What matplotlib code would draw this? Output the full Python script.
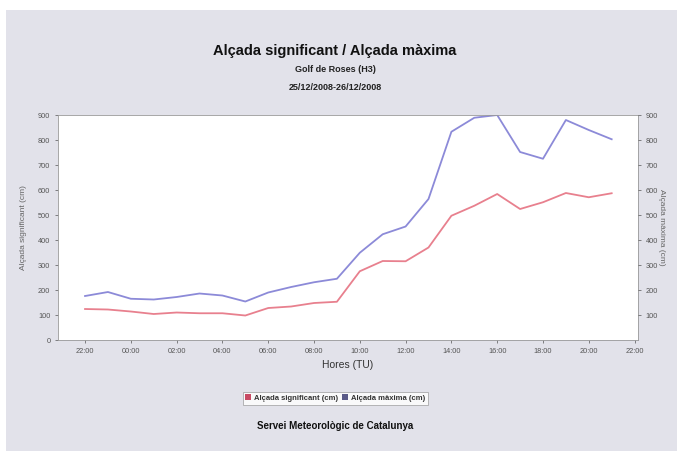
import numpy as np
import matplotlib.pyplot as plt
from matplotlib.patches import Patch, Rectangle

# hourly values from 22:00 (25/12) to 21:00 (26/12)
hores = np.arange(24)
alcada_sig = [124, 122, 114, 104, 110, 107, 107, 98, 128, 134, 148, 153,
              275, 316, 315, 370, 497, 537, 584, 524, 551, 588, 571, 587]
alcada_max = [176, 192, 165, 162, 172, 186, 178, 154, 190, 212, 231, 245,
              349, 423, 454, 564, 833, 889, 900, 752, 725, 880, 840, 803]
tick_pos = np.arange(0, 25, 2)
tick_labels = ["22:00", "00:00", "02:00", "04:00", "06:00", "08:00", "10:00",
               "12:00", "14:00", "16:00", "18:00", "20:00", "22:00"]

plt.rcParams['font.family'] = ['Liberation Sans', 'DejaVu Sans']
bg = '#e2e2ea'
red = '#e8808e'
blue = '#8c8ad8'

fig = plt.figure(figsize=(6.77, 4.51), dpi=100, facecolor=bg)
# white strips along the top and left edges of the scan
fig.patches.append(Rectangle((0, 1 - 10 / 451), 1, 10 / 451, transform=fig.transFigure,
                             facecolor='white', edgecolor='none', zorder=-10))
fig.patches.append(Rectangle((0, 0), 6 / 677, 1, transform=fig.transFigure,
                             facecolor='white', edgecolor='none', zorder=-10))

ax = fig.add_axes([0.0857, 0.2461, 0.8567, 0.4989])
ax.set_facecolor('white')
ax.plot(hores, alcada_sig, color=red, lw=1.3)
ax.plot(hores, alcada_max, color=blue, lw=1.3)
ax.set_xlim(-1.18, 24.15)
ax.set_ylim(0, 900)
ax.set_yticks(np.arange(0, 901, 100))
ax.set_xticks(tick_pos)
ax.set_xticklabels(tick_labels)
ax.tick_params(labelsize=5.3, colors='#555555', length=2, width=0.5)
ax.set_ylabel("Alçada significant (cm)", fontsize=6, color='#666666', labelpad=8)
ax.set_xlabel("Hores (TU)", fontsize=7.5, color='#333333', labelpad=4)
for s in ax.spines.values():
    s.set_color('#999999')
    s.set_linewidth(0.6)

ax2 = ax.twinx()
ax2.set_ylim(0, 900)
ax2.set_yticks(np.arange(100, 901, 100))
ax2.tick_params(labelsize=5.3, colors='#555555', length=2, width=0.5)
ax2.set_ylabel("Alçada màxima (cm)", fontsize=6, color='#666666', rotation=-90, labelpad=5)
for s in ax2.spines.values():
    s.set_visible(False)

fig.text(0.495, 0.888, "Alçada significant / Alçada màxima", ha='center', va='center',
         fontsize=10.5, fontweight='bold', color='#111111')
fig.text(0.495, 0.845, "Golf de Roses (H3)", ha='center', va='center',
         fontsize=6.5, fontweight='bold', color='#222222')
fig.text(0.495, 0.805, "25/12/2008-26/12/2008", ha='center', va='center',
         fontsize=6.5, fontweight='bold', color='#222222')

handles = [Patch(facecolor='#c84a64', edgecolor='none', label="Alçada significant (cm)"),
           Patch(facecolor='#5a5a88', edgecolor='none', label="Alçada màxima (cm)")]
leg = fig.legend(handles=handles, loc='center', bbox_to_anchor=(0.495, 0.117), ncol=2,
                 fontsize=5.5, frameon=True, fancybox=False, handlelength=0.8,
                 handleheight=0.8, handletextpad=0.3, columnspacing=0.6,
                 borderpad=0.35)
leg.get_frame().set_edgecolor('#999999')
leg.get_frame().set_linewidth(0.6)
for t in leg.get_texts():
    t.set_fontweight('bold')
    t.set_color('#333333')

fig.text(0.495, 0.055, "Servei Meteorològic de Catalunya", ha='center', va='center',
         fontsize=7, fontweight='bold', color='#111111')

fig.savefig("out.png", dpi=100, facecolor=bg)
